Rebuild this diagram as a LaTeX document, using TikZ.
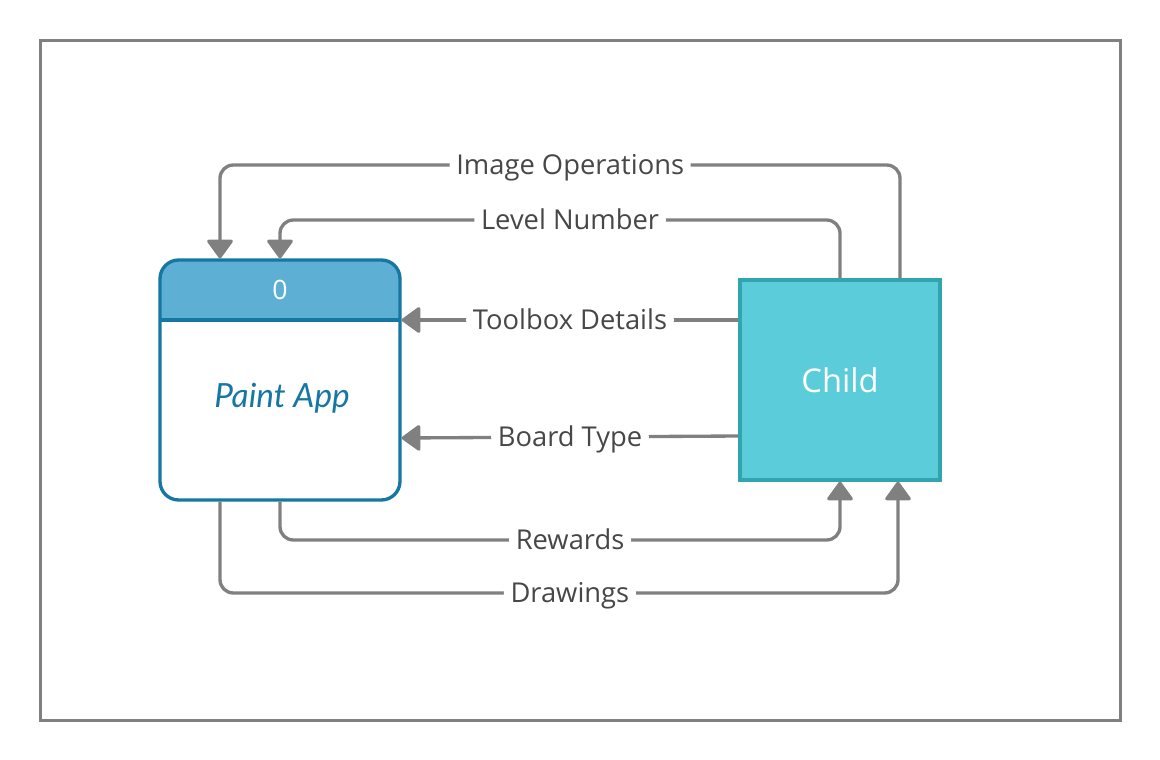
\documentclass[tikz,border=0pt]{standalone}
\usepackage{fontspec}
\setmainfont{Open Sans}
\newfontfamily\latofont{Lato}
\usetikzlibrary{arrows.meta}

\definecolor{flowgray}{HTML}{808080}
\definecolor{procblue}{HTML}{1677A3}
\definecolor{prochead}{HTML}{5DB0D4}
\definecolor{childfill}{HTML}{5BCCD9}
\definecolor{childline}{HTML}{31A5AD}
\definecolor{labeltext}{HTML}{474747}

\begin{document}
\begin{tikzpicture}[x=0.75pt,y=-0.75pt,
    flow/.style={draw=flowgray, line width=2.5pt, rounded corners=10pt,
                 -{Triangle[width=21pt,length=15pt,round]}},
    flowlbl/.style={fill=white, text=labeltext, font=\fontsize{20.5}{24}\selectfont,
                    inner xsep=5pt, inner ysep=3pt, text height=14.6pt, text depth=0pt},
    procbox/.style={draw=procblue, line width=2.5pt, rounded corners=14pt,
                    fill=white, minimum width=180pt, minimum height=180pt,
                    path picture={\fill[prochead, sharp corners] (path picture bounding box.north west)
                      rectangle ([yshift=-45pt]path picture bounding box.north east);}},
    childbox/.style={draw=childline, fill=childfill, line width=2.5pt,
                     minimum width=150pt, minimum height=150pt,
                     text=white, font=\fontsize{24.5}{28}\selectfont}]
    \useasboundingbox (0,0) rectangle (1160,760);
    % outer frame
    \draw[flowgray, line width=2.25pt] (40,40) rectangle (1120,720);

    % process and external entity
    \node[procbox] (proc) at (280,380) {};
    \draw[procblue, line width=2.5pt] (160,320) -- (400,320);
    \node[text=white, font=\fontsize{20}{22}\selectfont] (procid) at (280,290) {0};
    \node[text=procblue, font=\latofont\itshape\fontsize{25}{28}\selectfont] (procname) at (282,398) {Paint App};
    \node[childbox] (child) at (840,380) {Child};

    % data flows into the process
    \draw[flow] (900,0 |- child.north) -- (900,165)
        -- node[flowlbl, pos=0.485] {Image Operations} (220,165) -- (220,0 |- proc.north);
    \draw[flow] (840,0 |- child.north) -- (840,220)
        -- node[flowlbl, pos=0.482] {Level Number} (280,220) -- (280,0 |- proc.north);
    \draw[flow] (child.west |- 0,320) -- node[flowlbl] {Toolbox Details} (proc.east |- 0,320);
    \draw[flow] (child.west |- 0,436) -- node[flowlbl] {Board Type} (proc.east |- 0,438);

    % data flows into the child
    \draw[flow] (280,0 |- proc.south) -- (280,540)
        -- node[flowlbl, pos=0.518] {Rewards} (840,540) -- (840,0 |- child.south);
    \draw[flow] (220,0 |- proc.south) -- (220,593)
        -- node[flowlbl, pos=0.516] {Drawings} (898,593) -- (898,0 |- child.south);
\end{tikzpicture}
\end{document}
